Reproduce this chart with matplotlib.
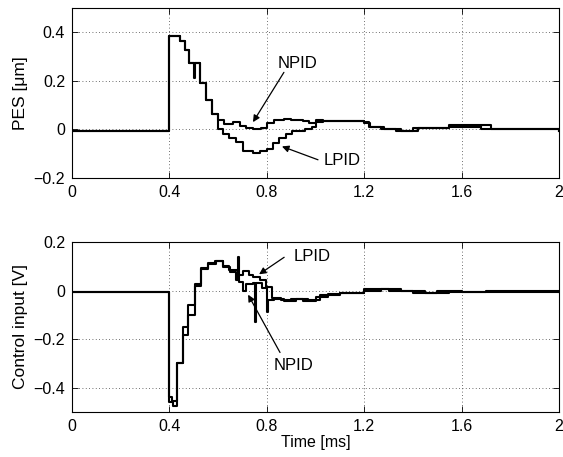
import matplotlib
matplotlib.use("Agg")
import matplotlib.pyplot as plt

plt.rcParams['font.family'] = ['Liberation Sans', 'DejaVu Sans']
plt.rcParams['font.size'] = 11

# ---- data ----
x_ticks = [0, 0.4, 0.8, 1.2, 1.6, 2.0]
x_ticklabels = ["0", "0.4", "0.8", "1.2", "1.6", "2"]

pes_yticks = [-0.2, 0.0, 0.2, 0.4]
pes_yticklabels = ["\u22120.2", "0", "0.2", "0.4"]
ctl_yticks = [-0.4, -0.2, 0.0, 0.2]
ctl_yticklabels = ["\u22120.4", "\u22120.2", "0", "0.2"]

pes_lpid_t = [0.0, 0.40, 0.445, 0.465, 0.48, 0.50, 0.503, 0.525, 0.55, 0.575, 0.60, 0.62, 0.645,
              0.675, 0.70, 0.745, 0.77, 0.80, 0.825, 0.85, 0.88, 0.905, 0.955, 0.985, 1.00, 1.03,
              1.20, 1.225, 1.28, 1.35, 1.42, 1.55, 1.68, 2.0]
pes_lpid_y = [-0.005, 0.385, 0.365, 0.325, 0.275, 0.21, 0.275, 0.19, 0.12, 0.065, 0.0, -0.02, -0.035,
              -0.05, -0.09, -0.098, -0.09, -0.08, -0.055, -0.035, -0.02, -0.005, 0.0, 0.01, 0.03, 0.035,
              0.025, 0.01, 0.0, -0.005, 0.005, 0.02, 0.0, -0.005]

pes_npid_t = [0.0, 0.40, 0.445, 0.465, 0.48, 0.525, 0.55, 0.575, 0.60, 0.625, 0.66, 0.69,
              0.715, 0.745, 0.775, 0.80, 0.83, 0.87, 0.90, 0.95, 0.975, 1.0, 1.03, 1.2, 1.22, 1.27,
              1.33, 1.40, 1.55, 1.68, 1.72, 2.0]
pes_npid_y = [-0.005, 0.385, 0.365, 0.325, 0.275, 0.19, 0.12, 0.065, 0.04, 0.022, 0.03, 0.015,
              0.005, 0.0, 0.005, 0.025, 0.04, 0.045, 0.04, 0.035, 0.025, 0.04, 0.035, 0.03, 0.01, 0.0,
              -0.008, 0.005, 0.01, 0.02, 0.0, -0.005]

ctl_lpid_t = [0.0, 0.40, 0.41, 0.43, 0.455, 0.478, 0.505, 0.53, 0.56, 0.585, 0.62, 0.645, 0.68,
              0.70, 0.725, 0.745, 0.77, 0.795, 0.82, 0.86, 0.90, 0.95, 1.0, 1.05, 1.1, 1.2, 1.27,
              1.35, 1.45, 1.55, 1.7, 2.0]
ctl_lpid_y = [-0.005, -0.44, -0.455, -0.30, -0.185, -0.06, 0.025, 0.093, 0.115, 0.12, 0.10, 0.085, 0.065,
              0.08, 0.065, 0.055, 0.045, 0.015, -0.03, -0.04, -0.035, -0.045, -0.025, -0.015, -0.01, 0.0, 0.005,
              0.0, -0.01, -0.005, 0.0, -0.005]

ctl_npid_t = [0.0, 0.40, 0.415, 0.43, 0.455, 0.478, 0.505, 0.53, 0.56, 0.59, 0.62, 0.65, 0.675,
              0.68, 0.685, 0.70, 0.715, 0.745, 0.75, 0.755, 0.78, 0.80, 0.803, 0.83, 0.87, 0.92,
              0.97, 1.02, 1.1, 1.2, 1.3, 1.4, 1.5, 1.6, 2.0]
ctl_npid_y = [-0.005, -0.46, -0.475, -0.30, -0.15, -0.10, 0.02, 0.09, 0.11, 0.12, 0.095, 0.075, 0.045,
              0.14, 0.035, 0.0, 0.025, 0.03, -0.13, 0.03, 0.01, -0.09, -0.04, -0.035, -0.045, -0.035,
              -0.04, -0.02, -0.01, 0.005, 0.0, -0.01, 0.0, -0.005, -0.005]

# ---- figure ----
fig = plt.figure(figsize=(5.63, 4.57), dpi=100)
ax1 = fig.add_axes([0.128, 0.6105, 0.865, 0.372])
ax2 = fig.add_axes([0.128, 0.0985, 0.865, 0.372])

def style(ax, yticks, ylabels, ylim):
    ax.set_xlim(0, 2)
    ax.set_ylim(*ylim)
    ax.set_xticks(x_ticks)
    ax.set_xticklabels(x_ticklabels)
    ax.set_yticks(yticks)
    ax.set_yticklabels(ylabels)
    ax.tick_params(direction='in', top=True, right=True, length=4, width=0.6, labelsize=11.5, pad=5)
    ax.grid(True, linestyle=(0, (1, 3)), color='0.25', linewidth=0.6)
    for s in ax.spines.values():
        s.set_linewidth(0.8)

lw = 1.5
ax1.step(pes_lpid_t, pes_lpid_y, where='post', color='black', lw=lw)
ax1.step(pes_npid_t, pes_npid_y, where='post', color='black', lw=lw)
style(ax1, pes_yticks, pes_yticklabels, (-0.2, 0.5))
ax1.set_ylabel("PES [\u03bcm]", fontsize=12.5, labelpad=4)

ax2.step(ctl_lpid_t, ctl_lpid_y, where='post', color='black', lw=lw)
ax2.step(ctl_npid_t, ctl_npid_y, where='post', color='black', lw=lw)
style(ax2, ctl_yticks, ctl_yticklabels, (-0.5, 0.2))
ax2.set_ylabel("Control input [V]", fontsize=12.5, labelpad=4)
ax2.set_xlabel("Time [ms]", fontsize=11.5, labelpad=1)

ap = dict(arrowstyle='-|>', color='black', lw=0.9, mutation_scale=10, shrinkA=0, shrinkB=0)
ax1.text(0.924, 0.27, "NPID", ha='center', va='center', fontsize=12)
ax1.annotate("", xy=(0.743, 0.03), xytext=(0.87, 0.235), arrowprops=ap)
ax1.text(1.11, -0.128, "LPID", ha='center', va='center', fontsize=12)
ax1.annotate("", xy=(0.862, -0.07), xytext=(1.01, -0.125), arrowprops=ap)

ax2.text(0.985, 0.142, "LPID", ha='center', va='center', fontsize=12)
ax2.annotate("", xy=(0.768, 0.067), xytext=(0.871, 0.137), arrowprops=ap)
ax2.text(0.908, -0.31, "NPID", ha='center', va='center', fontsize=12)
ax2.annotate("", xy=(0.723, -0.017), xytext=(0.854, -0.255), arrowprops=ap)

fig.savefig("out.png", dpi=100)
